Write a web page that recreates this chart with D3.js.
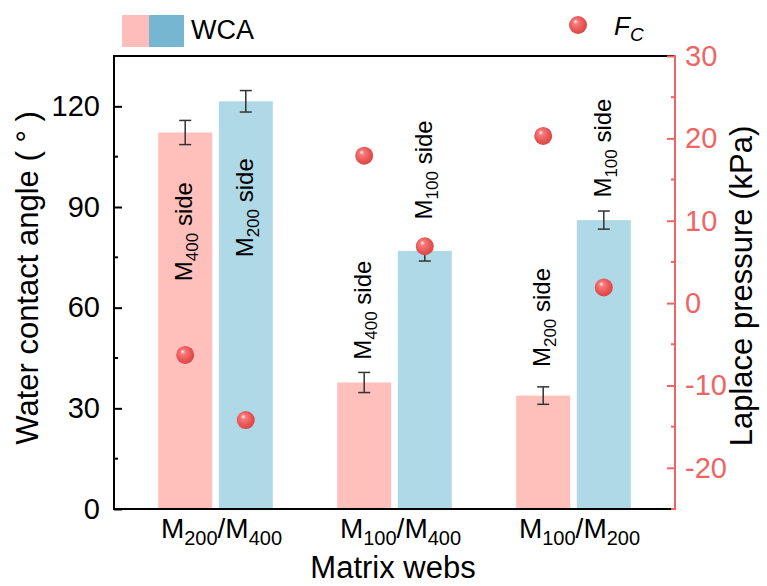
<!DOCTYPE html>
<html>
<head>
<meta charset="utf-8">
<script src="https://cdn.jsdelivr.net/npm/d3@7/dist/d3.min.js"></script>
<style>
  html, body { margin: 0; padding: 0; background: #fff; }
  svg { display: block; font-family: Arial, "Liberation Sans", sans-serif; }
</style>
</head>
<body>
<svg id="chart" width="767" height="586"></svg>
<script>
// Matrix web pairs
const categories = ["M200/M400", "M100/M400", "M100/M200"];

// Water contact angle (°) of each side, with error
const wcaFirst = [112.2, 37.7, 33.8];
const wcaFirstErr = [3.6, 3.0, 2.6];
const wcaSecond = [121.5, 76.9, 86.1];
const wcaSecondErr = [3.2, 3.0, 2.7];

// Laplace pressure F_C (kPa) measured on each side
const fcFirst = [-6.3, 17.9, 20.3];
const fcSecond = [-14.2, 6.9, 1.9];

// Side names (subscript of M) and where their labels start (°)
const sideFirst = ["400", "400", "200"];
const sideSecond = ["200", "100", "100"];
const sideFirstAt = [67.9, 44.5, 42.3];
const sideSecondAt = [75.0, 86.3, 92.8];

// Axis ticks
const leftTicks = [0, 30, 60, 90, 120];
const leftMinor = [15, 45, 75, 105];
const rightTicks = [-20, -10, 0, 10, 20, 30];
const rightMinor = [-25, -15, -5, 5, 15, 25];

const L = 114, R = 675, T = 56, B = 509;
const pink = "#ffc0bc", blue = "#afd9e7";
const pinkKey = "#ffbdb9", blueKey = "#77b6d0";
const red = "#f06464";
const ink = "#000";
const FONT = "Arial, 'Liberation Sans', sans-serif";

const svg = d3.select("#chart");
const defs = svg.append("defs");

// glossy sphere for the F_C markers
const grad = defs.append("radialGradient")
  .attr("id", "ball").attr("cx", "45%").attr("cy", "45%").attr("r", "60%")
  .attr("fx", "35%").attr("fy", "30%");
grad.append("stop").attr("offset", "0%").attr("stop-color", "#fff4f4");
grad.append("stop").attr("offset", "22%").attr("stop-color", "#f47c7c");
grad.append("stop").attr("offset", "65%").attr("stop-color", "#ea5656");
grad.append("stop").attr("offset", "100%").attr("stop-color", "#d54444");

const x = d3.scalePoint().domain(categories).range([L, R]).padding(0.567);
const yL = d3.scaleLinear().domain([0, 135]).range([B, T]);
const yR = d3.scaleLinear().domain([-25, 30]).range([B, T]);

const barW = 54, offset = 30.3;

// writes "M200/M400" style text with the digits as subscripts
function subText(sel, str, size, subSize, drop) {
  const parts = str.split(/(\d+)/).filter(s => s.length);
  let lowered = false;
  parts.forEach(p => {
    const isSub = /^\d+$/.test(p);
    const t = sel.append("tspan").text(p).attr("font-size", isSub ? subSize : size);
    if (isSub && !lowered) { t.attr("dy", drop); lowered = true; }
    else if (!isSub && lowered) { t.attr("dy", -drop); lowered = false; }
  });
}

// bars
const gBars = svg.append("g");
function drawBars(vals, color, dx) {
  categories.forEach((c, i) => {
    const cx = x(c) + dx;
    gBars.append("rect")
      .attr("x", cx - barW / 2).attr("width", barW)
      .attr("y", yL(vals[i])).attr("height", yL(0) - yL(vals[i]))
      .attr("fill", color);
  });
}
drawBars(wcaFirst, pink, -offset);
drawBars(wcaSecond, blue, offset);

// error bars
const gErr = svg.append("g").attr("stroke", "#333").attr("stroke-width", 1.5).attr("fill", "none");
function drawErr(vals, errs, dx) {
  categories.forEach((c, i) => {
    const cx = x(c) + dx;
    const y0 = yL(vals[i] - errs[i]), y1 = yL(vals[i] + errs[i]);
    gErr.append("line").attr("x1", cx).attr("x2", cx).attr("y1", y0).attr("y2", y1);
    gErr.append("line").attr("x1", cx - 6).attr("x2", cx + 6).attr("y1", y0).attr("y2", y0);
    gErr.append("line").attr("x1", cx - 6).attr("x2", cx + 6).attr("y1", y1).attr("y2", y1);
  });
}
drawErr(wcaFirst, wcaFirstErr, -offset);
drawErr(wcaSecond, wcaSecondErr, offset);

// rotated side labels
const gLab = svg.append("g").attr("fill", ink);
function drawSide(subs, at, dx) {
  categories.forEach((c, i) => {
    const t = gLab.append("text")
      .attr("transform", `translate(${x(c) + dx + 7},${yL(at[i])}) rotate(-90)`)
      .attr("text-anchor", "start");
    t.append("tspan").text("M").attr("font-size", 24);
    t.append("tspan").text(subs[i]).attr("font-size", 17).attr("dy", 6);
    t.append("tspan").text(" side").attr("font-size", 24).attr("dy", -6);
  });
}
drawSide(sideFirst, sideFirstAt, -offset);
drawSide(sideSecond, sideSecondAt, offset);

// F_C markers
const gPts = svg.append("g");
function drawPts(vals, dx) {
  categories.forEach((c, i) => {
    gPts.append("circle")
      .attr("cx", x(c) + dx).attr("cy", yR(vals[i])).attr("r", 9)
      .attr("fill", "url(#ball)");
  });
}
drawPts(fcFirst, -offset);
drawPts(fcSecond, offset);

// frame
svg.append("line").attr("x1", L).attr("x2", R).attr("y1", T).attr("y2", T)
  .attr("stroke", ink).attr("stroke-width", 2);
svg.append("line").attr("x1", L).attr("x2", R).attr("y1", B).attr("y2", B)
  .attr("stroke", ink).attr("stroke-width", 2);

const hyphen = d => String(d);

// left axis
const axL = d3.axisLeft(yL).tickValues(leftTicks).tickFormat(hyphen)
  .tickSize(-8).tickPadding(14).tickSizeOuter(0);
const gL = svg.append("g").attr("transform", `translate(${L},0)`).call(axL);
gL.select(".domain").attr("stroke", ink).attr("stroke-width", 2).attr("d", `M0,${T - 1}V${B + 1}`);
gL.selectAll(".tick line").attr("stroke", ink).attr("stroke-width", 2);
gL.selectAll(".tick text").attr("font-size", 29).attr("fill", ink).attr("font-family", FONT);
gL.selectAll(".minor").data(leftMinor).enter().append("line")
  .attr("x1", 0).attr("x2", 4).attr("y1", d => yL(d)).attr("y2", d => yL(d))
  .attr("stroke", ink).attr("stroke-width", 2);

// right axis
const axR = d3.axisRight(yR).tickValues(rightTicks).tickFormat(hyphen)
  .tickSize(-8).tickPadding(10).tickSizeOuter(0);
const gR = svg.append("g").attr("transform", `translate(${R},0)`).call(axR);
gR.select(".domain").attr("stroke", red).attr("stroke-width", 2).attr("d", `M0,${T - 1}V${B + 1}`);
gR.selectAll(".tick line").attr("stroke", red).attr("stroke-width", 2);
gR.selectAll(".tick text").attr("font-size", 29).attr("fill", red).attr("font-family", FONT);
gR.selectAll(".minor").data(rightMinor).enter().append("line")
  .attr("x1", 0).attr("x2", -4).attr("y1", d => yR(d)).attr("y2", d => yR(d))
  .attr("stroke", red).attr("stroke-width", 2);

// category labels
categories.forEach(c => {
  const t = svg.append("text").attr("x", x(c) + 6).attr("y", 538)
    .attr("text-anchor", "middle").attr("fill", ink);
  subText(t, c, 28, 20, 7);
});

// axis titles
svg.append("text").attr("x", 393).attr("y", 578).attr("text-anchor", "middle")
  .attr("font-size", 31).attr("fill", ink).text("Matrix webs");
svg.append("text").attr("transform", "translate(38,278) rotate(-90)")
  .attr("text-anchor", "middle").attr("font-size", 31).attr("fill", ink)
  .text("Water contact angle ( ° )");
svg.append("text").attr("transform", "translate(752,286) rotate(-90)")
  .attr("text-anchor", "middle").attr("font-size", 31).attr("fill", ink)
  .text("Laplace pressure (kPa)");

// legend
const gLeg = svg.append("g");
gLeg.append("rect").attr("x", 122).attr("y", 15).attr("width", 27).attr("height", 32).attr("fill", pinkKey);
gLeg.append("rect").attr("x", 149).attr("y", 15).attr("width", 35).attr("height", 32).attr("fill", blueKey);
gLeg.append("text").attr("x", 191).attr("y", 39).attr("font-size", 27).attr("fill", ink).text("WCA");
gLeg.append("circle").attr("cx", 578).attr("cy", 25).attr("r", 9).attr("fill", "url(#ball)");
const fc = gLeg.append("text").attr("x", 614).attr("y", 35).attr("fill", ink).attr("font-style", "italic");
fc.append("tspan").text("F").attr("font-size", 26);
fc.append("tspan").text("C").attr("font-size", 19).attr("dy", 6);
</script>
</body>
</html>
